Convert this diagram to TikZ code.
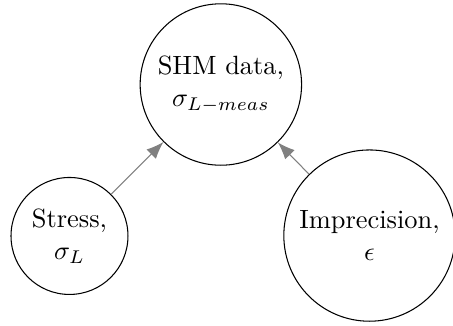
\documentclass[tikz,border=0pt]{standalone}
\usepackage{amsmath}
\usepackage{amssymb}
\usetikzlibrary{arrows.meta}
\usetikzlibrary{positioning}
\tikzset{
var node/.style = { circle, draw = black, fill = white, align = center, inner sep = 3.33pt },
dep edge/.style = { draw = gray, -{Latex[length = 6.5pt, width = 5pt]} },
}

\begin{document}
\begin{tikzpicture}
    \useasboundingbox (0,0) rectangle (6.03,4.33);
    \node[var node] (shm) at (2.94,3.205) {SHM data,\\ $\sigma_{L-meas}$};
    \node[var node] (stress) at (0.925,1.189) {Stress,\\ $\sigma_L$};
    \node[var node] (imprec) at (4.918,1.194) {Imprecision,\\ $\epsilon$};
    \path (stress) edge [dep edge] (shm);
    \path (imprec) edge [dep edge] (shm);
\end{tikzpicture}
\end{document}
